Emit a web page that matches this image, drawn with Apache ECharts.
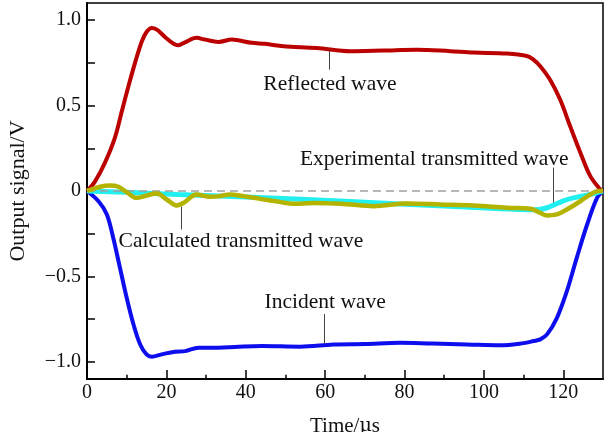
<!DOCTYPE html>
<html>
<head>
<meta charset="utf-8">
<script src="https://cdn.jsdelivr.net/npm/echarts@6/dist/echarts.min.js"></script>
<style>
  html, body { margin: 0; padding: 0; background: #fff; }
  #chart { width: 613px; height: 432px; }
</style>
</head>
<body>
<div id="chart"></div>
<script>
// (time in µs, signal in V)
var reflectedT = [0, 2, 4.5, 7, 8.7, 10.4, 12.1, 13.8, 15, 16.3, 17.6, 19.7, 21.8, 23, 24.7, 27.6, 29.7, 33.1, 36.5, 38.1, 41.5, 44.9, 49.5, 57.9, 66.3, 74.6, 83.1, 91.5, 97.4, 105.8, 110.8, 112.4, 114.2, 116.7, 119.2, 121.7, 124.3, 126.8, 129.3, 130]
var reflectedV = [0, 0.055, 0.165, 0.31, 0.46, 0.61, 0.75, 0.875, 0.93, 0.954, 0.944, 0.90, 0.862, 0.853, 0.87, 0.896, 0.886, 0.872, 0.886, 0.882, 0.867, 0.861, 0.847, 0.837, 0.818, 0.822, 0.827, 0.818, 0.81, 0.804, 0.79, 0.77, 0.73, 0.65, 0.535, 0.38, 0.224, 0.087, 0.01, 0]

var incidentT = [0, 2.9, 5, 6.6, 8.3, 10, 11.7, 13.4, 15, 16.3, 18.8, 22.2, 24.7, 28.1, 33.1, 37.3, 44, 53.7, 62.1, 70, 78.9, 87, 95.7, 104.1, 110, 112.5, 114.2, 115.9, 118.4, 120.9, 123.4, 126, 128.5, 130]
var incidentV = [0, -0.06, -0.137, -0.274, -0.449, -0.625, -0.78, -0.898, -0.956, -0.97, -0.956, -0.94, -0.937, -0.917, -0.917, -0.913, -0.907, -0.911, -0.898, -0.895, -0.888, -0.893, -0.898, -0.903, -0.89, -0.878, -0.868, -0.839, -0.742, -0.586, -0.39, -0.196, -0.04, 0]

var experimentalT = [0, 10, 23, 40, 65, 90, 113, 115.9, 120.9, 127.6, 130]
var experimentalV = [0, -0.008, -0.02, -0.035, -0.06, -0.088, -0.11, -0.098, -0.05, -0.015, 0]

var calculatedT = [0, 3.3, 5.8, 7.9, 10, 12.5, 15, 17.6, 20.1, 22.6, 24.3, 27.6, 31, 33.5, 36, 39.4, 43.6, 48.7, 52, 57, 62.1, 65.5, 72.2, 80.6, 89, 97.4, 105.8, 111.7, 114.2, 115.9, 118.4, 120.9, 124.3, 126.8, 128.9, 130]
var calculatedV = [0, 0.025, 0.032, 0.025, -0.007, -0.04, -0.026, -0.015, -0.05, -0.085, -0.07, -0.02, -0.034, -0.03, -0.02, -0.03, -0.046, -0.065, -0.075, -0.07, -0.073, -0.077, -0.089, -0.073, -0.079, -0.085, -0.098, -0.104, -0.128, -0.143, -0.137, -0.108, -0.06, -0.02, 0, 0]

var xMajor = [0, 20, 40, 60, 80, 100, 120]
var xMinor = [10, 30, 50, 70, 90, 110]
var yLabels = [-1, -0.5, 0, 0.5, 1]
var yTicks = [-1, -0.75, -0.5, -0.25, 0, 0.25, 0.5, 0.75, 1]

function pairs(t, v) {
  var out = []
  for (var i = 0; i < t.length; i++) out.push([t[i], v[i]])
  return out
}

var font = 'Liberation Serif'
var leader = { color: '#444', width: 1, type: 'solid' }

function note(text, x, y) {
  return {
    symbol: 'circle',
    symbolSize: 0,
    data: [{ name: text, coord: [x, y] }],
    label: {
      show: true,
      position: 'inside',
      formatter: '{b}',
      color: '#111',
      fontFamily: font,
      fontSize: 21.5
    }
  }
}

function leaderLine(x, y1, y2) {
  return {
    silent: true,
    symbol: 'none',
    label: { show: false },
    lineStyle: leader,
    emphasis: { disabled: true },
    data: [[{ coord: [x, y1] }, { coord: [x, y2] }]]
  }
}

var chart = echarts.init(document.getElementById('chart'))

var option = {
  backgroundColor: '#fff',
  animation: false,
  grid: {
    left: 87,
    right: 10,
    top: 3,
    bottom: 53,
    containLabel: false,
    outerBoundsMode: 'none',
    show: true,
    borderColor: '#000',
    borderWidth: 1.5
  },
  xAxis: {
    type: 'value',
    min: 0,
    max: 130,
    interval: 20,
    name: 'Time/{mu|\u03bc}s',
    nameLocation: 'middle',
    nameGap: 37,
    nameTextStyle: {
      color: '#111', fontFamily: font, fontSize: 21,
      rich: { mu: { fontFamily: 'DejaVu Serif', fontSize: 19, color: '#111' } }
    },
    splitLine: { show: false },
    axisLine: { onZero: false, lineStyle: { color: '#000', width: 2 } },
    axisTick: { show: true, inside: true, length: 9, customValues: xMajor, lineStyle: { color: '#000', width: 1.5 } },
    minorTick: { show: false },
    axisLabel: { customValues: xMajor, color: '#111', fontFamily: font, fontSize: 20, margin: 4 }
  },
  yAxis: {
    type: 'value',
    min: -1.1,
    max: 1.1,
    name: 'Output signal/V',
    nameLocation: 'middle',
    nameGap: 58,
    nameTextStyle: { color: '#111', fontFamily: font, fontSize: 22 },
    splitLine: { show: false },
    axisLine: { onZero: false, lineStyle: { color: '#000', width: 2 } },
    axisTick: { inside: true, length: 8, customValues: yTicks, lineStyle: { color: '#000', width: 1.5 } },
    axisLabel: {
      customValues: yLabels,
      color: '#111',
      fontFamily: font,
      fontSize: 20,
      margin: 6,
      formatter: function (v) {
        if (Math.abs(v) < 1e-9) return '0'
        return (v < 0 ? '\u2212' : '') + Math.abs(v).toFixed(1)
      }
    }
  },
  series: [
    {
      name: 'zero',
      type: 'line',
      data: [],
      silent: true,
      markLine: {
        silent: true,
        symbol: 'none',
        label: { show: false },
        lineStyle: { color: '#a0a0a0', width: 1.5, type: [8, 5] },
        data: [{ yAxis: 0 }]
      },
      z: 1
    },
    {
      // minor x ticks: short segments rising from the bottom axis at 10, 30, ... 110
      name: 'minor ticks',
      type: 'line',
      data: [],
      silent: true,
      markLine: {
        silent: true,
        symbol: 'none',
        label: { show: false },
        lineStyle: { color: '#000', width: 1.5, type: 'solid' },
        data: xMinor.map(function (x) { return [{ coord: [x, -1.1] }, { coord: [x, -1.075] }] })
      },
      z: 2
    },
    {
      name: 'Reflected wave',
      type: 'line',
      data: pairs(reflectedT, reflectedV),
      showSymbol: false,
      smooth: 0.35,
      lineStyle: { color: '#bb0000', width: 4 },
      markLine: leaderLine(61, 0.82, 0.71),
      markPoint: note('Reflected wave', 61.2, 0.623),
      z: 3
    },
    {
      name: 'Incident wave',
      type: 'line',
      data: pairs(incidentT, incidentV),
      showSymbol: false,
      smooth: 0.35,
      lineStyle: { color: '#0d0ded', width: 4 },
      markLine: leaderLine(59.7, -0.895, -0.72),
      markPoint: note('Incident wave', 60, -0.652),
      z: 3
    },
    {
      name: 'Experimental transmitted wave',
      type: 'line',
      data: pairs(experimentalT, experimentalV),
      showSymbol: false,
      smooth: 0.3,
      lineStyle: { color: '#22f0f0', width: 5 },
      markLine: leaderLine(117.4, 0.137, -0.067),
      markPoint: note('Experimental transmitted wave', 87.5, 0.184),
      z: 4
    },
    {
      name: 'Calculated transmitted wave',
      type: 'line',
      data: pairs(calculatedT, calculatedV),
      showSymbol: false,
      smooth: 0.35,
      lineStyle: { color: '#b3b300', width: 4.5 },
      markLine: leaderLine(23.7, -0.09, -0.225),
      markPoint: note('Calculated transmitted wave', 38.8, -0.295),
      z: 5
    }
  ]
}

chart.setOption(option)
</script>
</body>
</html>
